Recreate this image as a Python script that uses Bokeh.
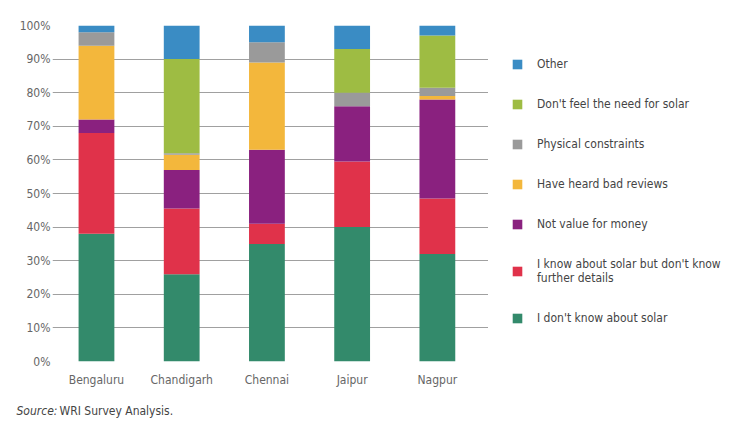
from bokeh.plotting import figure
from bokeh.models import Legend, LegendItem, Label, FixedTicker, NumeralTickFormatter, ColumnDataSource
from bokeh.layouts import row, column
from bokeh.embed import file_html
from bokeh.resources import INLINE

cities = ["Bengaluru", "Chandigarh", "Chennai", "Jaipur", "Nagpur"]
dont_know = [38, 26, 35, 40, 32]
know_no_details = [30, 19.5, 6, 19.5, 16.5]
not_value = [4, 11.5, 22, 16.5, 29.5]
bad_reviews = [22, 4.5, 26, 0, 1]
physical = [4, 0.5, 6, 4, 2.5]
no_need = [0, 28, 0, 13, 15.5]
other = [2, 10, 5, 7, 3]

series_names = ["I don't know about solar",
                "I know about solar but don't know\nfurther details",
                "Not value for money", "Have heard bad reviews",
                "Physical constraints", "Don't feel the need for solar", "Other"]
series_vals = [dont_know, know_no_details, not_value, bad_reviews, physical, no_need, other]
colors = ["#338a6b", "#e0324a", "#8a217f", "#f3b73c", "#9a9a9a", "#9ebc43", "#3a8cc4"]
y_ticks = [0, 10, 20, 30, 40, 50, 60, 70, 80, 90, 100]

FONT = "DejaVu Sans Condensed"

keys = ["s%d" % i for i in range(len(series_vals))]
data = {"x": list(range(len(cities)))}
for k, v in zip(keys, series_vals):
    data[k] = [val / 100 for val in v]
src = ColumnDataSource(data)

# main chart
p = figure(width=488, height=398, output_backend="svg", toolbar_location=None,
           x_range=(-0.516, 4.6), y_range=(0, 1),
           min_border_left=52, min_border_right=0, min_border_top=25, min_border_bottom=37)
p.outline_line_color = None
p.vbar_stack(keys, x="x", width=0.42, source=src, color=colors, line_color=None)

p.xaxis.ticker = FixedTicker(ticks=list(range(len(cities))))
p.xaxis.major_label_overrides = {i: c for i, c in enumerate(cities)}
p.yaxis.ticker = FixedTicker(ticks=[t / 100 for t in y_ticks])
p.yaxis.formatter = NumeralTickFormatter(format="0%")
for ax in (p.xaxis, p.yaxis):
    ax.axis_line_color = None
    ax.major_tick_line_color = None
    ax.minor_tick_line_color = None
    ax.major_label_text_font = FONT
    ax.major_label_text_font_size = "12px"
    ax.major_label_text_color = "#666666"
p.yaxis.major_label_standoff = -4
p.xaxis.major_label_standoff = 5
p.xgrid.grid_line_color = None
p.ygrid.grid_line_color = "#a0a0a0"
p.ygrid.grid_line_width = 1
p.ygrid.level = "underlay"

# legend panel
p2 = figure(width=245, height=398, output_backend="svg", toolbar_location=None,
            x_range=(0, 1), y_range=(0, 1), x_axis_location=None, y_axis_location=None,
            min_border=0)
p2.outline_line_color = None
p2.grid.visible = False
rs2 = p2.vbar_stack(keys, x="x", width=0.42, source=src, color=colors, line_color=None)
for r in rs2:
    r.visible = False
items = [LegendItem(label=series_names[i], renderers=[rs2[i]]) for i in reversed(range(len(keys)))]
legend = Legend(items=items, location=(23, 36), orientation="vertical")
legend.glyph_width = 12
legend.glyph_height = 12
legend.label_height = 12
legend.spacing = 26
legend.label_text_font = FONT
legend.label_text_font_size = "12px"
legend.label_text_color = "#444444"
legend.label_standoff = 14
legend.border_line_color = None
legend.background_fill_alpha = 0
legend.padding = 0
legend.margin = 0
p2.add_layout(legend, "center")

# source line
p3 = figure(width=733, height=23, output_backend="svg", toolbar_location=None,
            x_range=(0, 1), y_range=(0, 1), x_axis_location=None, y_axis_location=None,
            min_border=0)
p3.outline_line_color = None
p3.grid.visible = False
p3.add_layout(Label(x=16, y=4, x_units="screen", y_units="screen", text="Source:",
                    text_font=FONT, text_font_size="12px", text_font_style="italic",
                    text_color="#444444"))
p3.add_layout(Label(x=59, y=4, x_units="screen", y_units="screen", text="WRI Survey Analysis.",
                    text_font=FONT, text_font_size="12px", text_color="#444444"))

layout = column(row(p, p2), p3)
open("out.html", "w").write(file_html(layout, INLINE))
